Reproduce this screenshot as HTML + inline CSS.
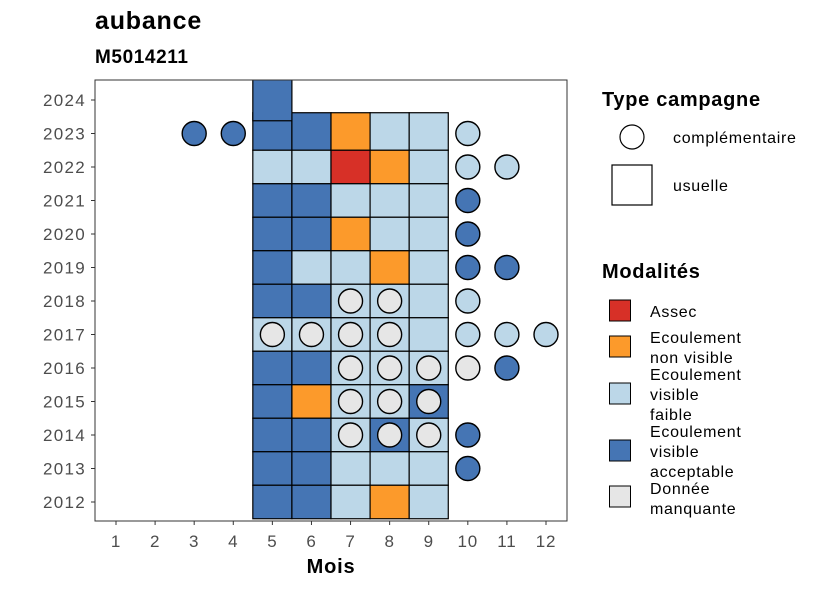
<!DOCTYPE html>
<html><head><meta charset="utf-8"><style>
body{margin:0;background:#fff}
svg{font-family:"Liberation Sans",sans-serif;display:block}
.lg{font-size:16px;letter-spacing:0.7px}
</style></head><body>
<svg width="826" height="590" xmlns="http://www.w3.org/2000/svg">
<text x="95" y="29" font-size="25" font-weight="bold" letter-spacing="0.8" fill="#000">aubance</text>
<text x="95" y="63" font-size="19" font-weight="bold" letter-spacing="0.6" fill="#000">M5014211</text>
<defs><clipPath id="pc"><rect x="95" y="80" width="472" height="441"/></clipPath></defs>
<rect x="95" y="80" width="472" height="441" fill="#fff"/>
<g id="tiles" clip-path="url(#pc)"></g>
<g id="points"></g>
<rect x="95" y="80" width="472" height="441" fill="none" stroke="#333" stroke-width="1"/>
<g id="axes"></g>
<text x="331" y="573" font-size="20" font-weight="bold" letter-spacing="0.8" text-anchor="middle">Mois</text>
<g>
<text x="602" y="106" font-size="20" font-weight="bold" letter-spacing="0.7">Type campagne</text>
<circle cx="632" cy="137" r="12" fill="#fff" stroke="#000" stroke-width="1.2"/>
<text class="lg" x="673" y="143">complémentaire</text>
<rect x="612" y="165" width="40" height="40" fill="#fff" stroke="#000" stroke-width="1.2"/>
<text class="lg" x="673" y="191">usuelle</text>
</g>
<g>
<text x="602" y="278" font-size="20" font-weight="bold" letter-spacing="0.7">Modalités</text>
<rect x="609.5" y="300" width="21" height="21" fill="#d73027" stroke="#000"/>
<text class="lg" x="650" y="317">Assec</text>
<rect x="609.5" y="336" width="21" height="21" fill="#fc9a2b" stroke="#000"/>
<text class="lg" x="650" y="343"><tspan x="650">Ecoulement</tspan><tspan x="650" dy="20">non visible</tspan></text>
<rect x="609.5" y="383" width="21" height="21" fill="#bcd7e8" stroke="#000"/>
<text class="lg" x="650" y="380"><tspan x="650">Ecoulement</tspan><tspan x="650" dy="20">visible</tspan><tspan x="650" dy="20">faible</tspan></text>
<rect x="609.5" y="440" width="21" height="21" fill="#4575b4" stroke="#000"/>
<text class="lg" x="650" y="437"><tspan x="650">Ecoulement</tspan><tspan x="650" dy="20">visible</tspan><tspan x="650" dy="20">acceptable</tspan></text>
<rect x="609.5" y="486" width="21" height="21" fill="#e6e6e6" stroke="#000"/>
<text class="lg" x="650" y="494"><tspan x="650">Donnée</tspan><tspan x="650" dy="20">manquante</tspan></text>
</g>
</svg>
<script>
const months=[1,2,3,4,5,6,7,8,9,10,11,12];
const years=[2012,2013,2014,2015,2016,2017,2018,2019,2020,2021,2022,2023,2024];
const colors={A:'#d73027',O:'#fc9a2b',L:'#bcd7e8',D:'#4575b4',G:'#e6e6e6'};
const tileYears=[2023,2023,2023,2023,2023,2022,2022,2022,2022,2022,2021,2021,2021,2021,2021,2020,2020,2020,2020,2020,2019,2019,2019,2019,2019,2018,2018,2018,2018,2018,2017,2017,2017,2017,2017,2016,2016,2016,2016,2016,2015,2015,2015,2015,2015,2014,2014,2014,2014,2014,2013,2013,2013,2013,2013,2012,2012,2012,2012,2012,2024];
const tileMonths=[5,6,7,8,9,5,6,7,8,9,5,6,7,8,9,5,6,7,8,9,5,6,7,8,9,5,6,7,8,9,5,6,7,8,9,5,6,7,8,9,5,6,7,8,9,5,6,7,8,9,5,6,7,8,9,5,6,7,8,9,5];
const tileMods=['D','D','O','L','L','L','L','A','O','L','D','D','L','L','L','D','D','O','L','L','D','L','L','O','L','D','D','L','L','L','L','L','L','L','L','D','D','L','L','L','D','O','L','L','D','D','D','L','D','L','D','D','L','L','L','D','D','L','O','L','D'];
const ptYears=[2023,2023,2023,2022,2022,2021,2020,2019,2019,2018,2018,2018,2017,2017,2017,2017,2017,2017,2017,2016,2016,2016,2016,2016,2015,2015,2015,2014,2014,2014,2014,2013];
const ptMonths=[3,4,10,10,11,10,10,10,11,7,8,10,5,6,7,8,10,11,12,7,8,9,10,11,7,8,9,7,8,9,10,10];
const ptMods=['D','D','L','L','L','D','D','D','D','G','G','L','G','G','G','G','L','L','L','G','G','G','G','D','G','G','G','G','G','G','D','D'];
const NS='http://www.w3.org/2000/svg';
const xs=m=>116+(m-1)*(546-116)/11;
const ys=y=>502-(y-2012)*(502-100)/12;
const bw=(546-116)/11;
function mk(t,a){const e=document.createElementNS(NS,t);for(const k in a)e.setAttribute(k,a[k]);return e;}
const tg=document.getElementById('tiles'),pg=document.getElementById('points'),ag=document.getElementById('axes');
for(let i=0;i<tileYears.length;i++){
  const y=tileYears[i];
  let top=ys(y+0.5),bot=ys(y-0.5);
  if(y===2023) top=ys(y+0.62);
  if(y===2024){bot=ys(y-0.62);top=ys(y+0.62);}
  const r=mk('rect',{x:xs(tileMonths[i])-bw/2,y:top,width:bw,height:bot-top,fill:colors[tileMods[i]],stroke:'#000','stroke-width':1.2});
  
  
  tg.appendChild(r);
}
for(let i=0;i<ptYears.length;i++){
  const c=mk('circle',{cx:xs(ptMonths[i]),cy:ys(ptYears[i]),r:12,fill:colors[ptMods[i]],stroke:'#000','stroke-width':1.4});
  
  
  pg.appendChild(c);
}
months.forEach(m=>{
  const t=mk('line',{x1:xs(m),x2:xs(m),y1:521,y2:525,stroke:'#333'});
  
  
  ag.appendChild(t);
  const l=mk('text',{x:xs(m),y:547,'font-size':17,'letter-spacing':0.8,'text-anchor':'middle',fill:'#4d4d4d'});l.textContent=m;
  
  
  ag.appendChild(l);
});
years.forEach(y=>{
  const t=mk('line',{x1:91,x2:95,y1:ys(y),y2:ys(y),stroke:'#333'});
  
  
  ag.appendChild(t);
  const l=mk('text',{x:86,y:ys(y)+6,'font-size':17,'letter-spacing':1.3,'text-anchor':'end',fill:'#4d4d4d'});l.textContent=y;
  
  
  ag.appendChild(l);
});
</script>
</body></html>
